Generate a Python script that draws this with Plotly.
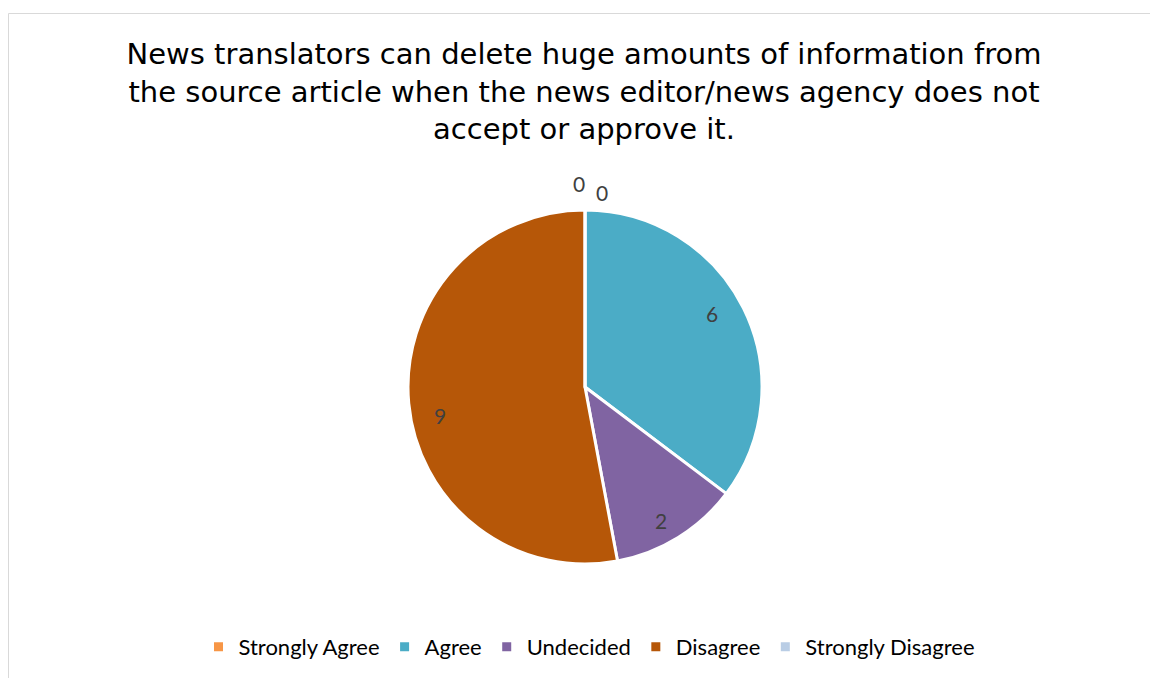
import math
import plotly.graph_objects as go

# Survey responses
categories = ["Strongly Agree", "Agree", "Undecided", "Disagree", "Strongly Disagree"]
counts = [0, 6, 2, 9, 0]
colors = ["#F79646", "#4BACC6", "#8064A2", "#B65708", "#B9CDE5"]

title_text = ("News translators can delete huge amounts of information from<br>"
              "the source article when the news editor/news agency does not<br>"
              "accept or approve it.")

W, H = 1150, 678
cx, cy, R = 585, 387, 177  # pie centre and radius in pixels

fig = go.Figure(go.Pie(
    labels=categories,
    values=counts,
    marker=dict(colors=colors, line=dict(color="white", width=3)),
    sort=False,
    direction="clockwise",
    rotation=0,
    textinfo="none",
    hoverinfo="label+value",
    domain=dict(x=[(cx - R) / W, (cx + R) / W], y=[1 - (cy + R) / H, 1 - (cy - R) / H]),
))

# Value labels placed near each slice's mid angle
total = sum(counts)
radial = [1.15, 0.83, 0.87, 0.834, 1.10]
angle_nudge = [0, -3.7, 2.2, -5.7, 0]  # degrees
xshift = [-6, 0, 0, 0, 17]
annotations = []
start = 0.0
for i, v in enumerate(counts):
    mid = (start + v / 2) / total * 360
    start += v
    if v == 0 and i == len(counts) - 1:
        mid = 360
    ang = math.radians(mid + angle_nudge[i])
    px = cx + radial[i] * R * math.sin(ang) + xshift[i]
    py = cy - radial[i] * R * math.cos(ang)
    annotations.append(dict(
        x=px / W, y=1 - py / H, xref="paper", yref="paper",
        text=str(v), showarrow=False,
        font=dict(family="Lato", size=21, color="#404040"),
        xanchor="center", yanchor="middle",
    ))

fig.update_layout(
    width=W, height=H,
    margin=dict(l=0, r=0, t=0, b=0),
    paper_bgcolor="white",
    title=dict(text=title_text, x=584 / W, xanchor="center", y=1 - 64 / H, yanchor="top",
               font=dict(family="DejaVu Sans", size=29, color="#000000")),
    showlegend=True,
    legend=dict(orientation="h", x=589 / W, xanchor="center", y=1 - 647 / H, yanchor="middle",
                font=dict(family="Lato", size=22, color="#000000"), itemclick=False),
    annotations=annotations,
    shapes=[dict(type="rect", xref="paper", yref="paper",
                 x0=8.5 / W, x1=1.05, y0=-0.05, y1=1 - 13.5 / H,
                 line=dict(color="#D9D9D9", width=1), fillcolor="rgba(0,0,0,0)")],
)

fig.write_html("out.html")
